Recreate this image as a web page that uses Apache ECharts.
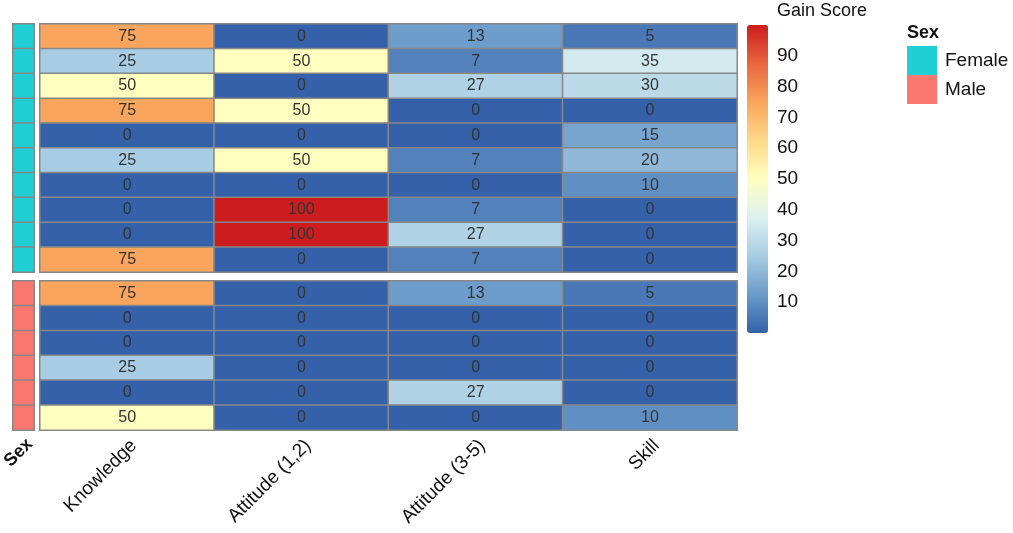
<!DOCTYPE html>
<html>
<head>
<meta charset="utf-8">
<script src="https://cdn.jsdelivr.net/npm/echarts@6/dist/echarts.min.js"></script>
<style>
  html, body { margin: 0; padding: 0; background: #fff; }
  #chart { width: 1013px; height: 533px; }
</style>
</head>
<body>
<div id="chart"></div>
<script>
// 列名
var categories = ["Knowledge", "Attitude (1,2)", "Attitude (3-5)", "Skill"];

// 每行一个学生，Female / Male 分两块
var femaleScores = [
  [75, 0, 13, 5],
  [25, 50, 7, 35],
  [50, 0, 27, 30],
  [75, 50, 0, 0],
  [0, 0, 0, 15],
  [25, 50, 7, 20],
  [0, 0, 0, 10],
  [0, 100, 7, 0],
  [0, 100, 27, 0],
  [75, 0, 7, 0]
];
var maleScores = [
  [75, 0, 13, 5],
  [0, 0, 0, 0],
  [0, 0, 0, 0],
  [25, 0, 0, 0],
  [0, 0, 27, 0],
  [50, 0, 0, 10]
];

var sexNames = ["Female", "Male"];
var sexColors = ["#1fcfd4", "#f8776e"];

// RdYlBu 反向
var gainColors = ["#3461a9", "#6b9bca", "#a8cce3", "#dcf0f1", "#ffffbf",
                  "#fdd88a", "#f9a55d", "#e8653f", "#cc1c1e"];

var font = "Liberation Sans";

function rowNames(n) {
  var r = [];
  for (var i = 0; i < n; i++) r.push(String(i));
  return r;
}

function toCells(rows) {
  var out = [];
  rows.forEach(function (row, i) {
    row.forEach(function (v, j) {
      out.push([j, i, v]);
    });
  });
  return out;
}

function sexCells(n, code) {
  var out = [];
  for (var i = 0; i < n; i++) out.push([0, i, code]);
  return out;
}

var chart = echarts.init(document.getElementById("chart"));

var cellStyle = { borderColor: "#888", borderWidth: 1.5 };
var cellLabel = {
  show: true,
  color: "#333",
  fontSize: 16,
  fontFamily: font,
  formatter: function (p) { return p.value[2]; }
};

function grid(l, t, w, h) {
  return { left: l, top: t, width: w, height: h, outerBoundsMode: "none", containLabel: false };
}

var option = {
  backgroundColor: "#fff",
  animation: false,
  textStyle: { fontFamily: font },
  title: [
    { text: "Gain Score", left: 777, top: 2, padding: 0,
      textStyle: { fontSize: 18, fontWeight: "normal", color: "#111", fontFamily: font } },
    { text: "Sex", left: 907, top: 24, padding: 0,
      textStyle: { fontSize: 18, fontWeight: "bold", color: "#111", fontFamily: font } }
  ],
  grid: [
    grid(40, 24, 697, 248),   // female
    grid(40, 281, 697, 149),  // male
    grid(13, 24, 21, 248),    // sex female
    grid(13, 281, 21, 149),   // sex male
    grid(747, 25, 21, 308)    // 色条刻度
  ],
  xAxis: [
    { type: "category", gridIndex: 0, data: categories,
      axisLine: { show: false }, axisTick: { show: false }, axisLabel: { show: false } },
    { type: "category", gridIndex: 1, data: categories,
      axisLine: { show: false }, axisTick: { show: false },
      axisLabel: { rotate: 45, verticalAlign: "top", fontSize: 19, color: "#111", margin: 6, fontFamily: font } },
    { type: "category", gridIndex: 2, data: ["Sex"],
      axisLine: { show: false }, axisTick: { show: false }, axisLabel: { show: false } },
    { type: "category", gridIndex: 3, data: ["Sex"],
      axisLine: { show: false }, axisTick: { show: false },
      axisLabel: { rotate: 45, verticalAlign: "top", fontSize: 18, fontWeight: "bold", color: "#111", margin: 5, fontFamily: font } },
    { type: "value", gridIndex: 4, show: false }
  ],
  yAxis: [
    { type: "category", gridIndex: 0, data: rowNames(femaleScores.length), inverse: true, show: false },
    { type: "category", gridIndex: 1, data: rowNames(maleScores.length), inverse: true, show: false },
    { type: "category", gridIndex: 2, data: rowNames(femaleScores.length), inverse: true, show: false },
    { type: "category", gridIndex: 3, data: rowNames(maleScores.length), inverse: true, show: false },
    { type: "value", gridIndex: 4, position: "right", min: 0, max: 100, interval: 10,
      axisLine: { show: false }, axisTick: { show: false }, splitLine: { show: false },
      axisLabel: {
        fontSize: 19, color: "#111", margin: 9, fontFamily: font,
        formatter: function (v) { return (v === 0 || v === 100) ? "" : v; }
      } }
  ],
  visualMap: [
    {
      type: "continuous",
      seriesIndex: [0, 1],
      min: 0, max: 100,
      calculable: false,
      orient: "vertical",
      left: 747, top: 25,
      itemWidth: 21, itemHeight: 308,
      padding: 0,
      text: null,
      showLabel: false,
      inRange: { color: gainColors }
    },
    {
      type: "piecewise",
      seriesIndex: [2, 3],
      orient: "vertical",
      inverse: true,
      align: "left",
      left: 907, top: 46,
      padding: 0,
      itemWidth: 30, itemHeight: 29, itemGap: 0,
      itemSymbol: "rect",
      textGap: 8,
      selectedMode: false,
      textStyle: { fontSize: 19, color: "#111", fontFamily: font },
      pieces: [
        { value: 0, label: sexNames[0], color: sexColors[0] },
        { value: 1, label: sexNames[1], color: sexColors[1] }
      ]
    }
  ],
  series: [
    { type: "heatmap", xAxisIndex: 0, yAxisIndex: 0, data: toCells(femaleScores),
      itemStyle: cellStyle, label: cellLabel },
    { type: "heatmap", xAxisIndex: 1, yAxisIndex: 1, data: toCells(maleScores),
      itemStyle: cellStyle, label: cellLabel },
    { type: "heatmap", xAxisIndex: 2, yAxisIndex: 2, data: sexCells(femaleScores.length, 0),
      itemStyle: cellStyle },
    { type: "heatmap", xAxisIndex: 3, yAxisIndex: 3, data: sexCells(maleScores.length, 1),
      itemStyle: cellStyle }
  ]
};

chart.setOption(option);
</script>
</body>
</html>
